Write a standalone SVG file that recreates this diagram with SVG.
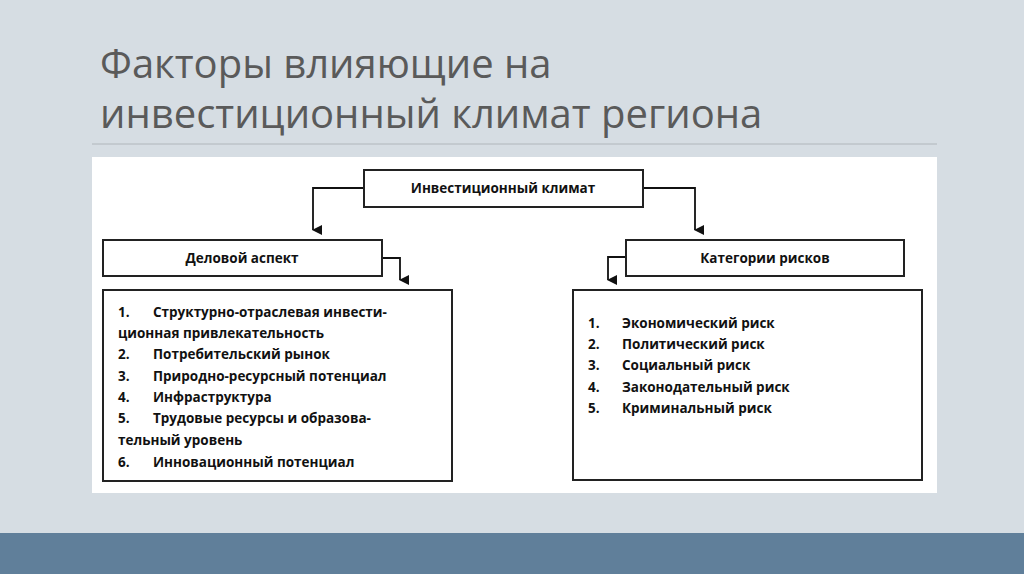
<svg xmlns="http://www.w3.org/2000/svg" width="1024" height="574" viewBox="0 0 1024 574">
<defs><marker id="ah" markerWidth="10" markerHeight="10" refX="5" refY="9" orient="auto" markerUnits="userSpaceOnUse"><path d="M0,0 L10,0 L5,10 z" transform="rotate(0)" fill="#111"/></marker></defs>
<style>
.b{fill:#fff;stroke:#222;stroke-width:2}
.t{font-family:"Open Sans","DejaVu Sans",sans-serif;font-weight:bold;font-size:13.5px;fill:#111}
.c{fill:none;stroke:#111;stroke-width:1.8}
</style>
<rect width="1024" height="574" fill="#d6dde3"/>
<rect y="533" width="1024" height="41" fill="#607f9a"/>
<text font-family="'Open Sans','Noto Sans',sans-serif" font-size="40" fill="#5a5a5a"><tspan x="100" y="78">Факторы влияющие на</tspan><tspan x="100" y="128">инвестиционный климат региона</tspan></text>
<line x1="92" y1="144" x2="937" y2="144" stroke="#b0b6bb" stroke-width="1"/>
<rect x="92" y="157" width="845" height="336" fill="#fff"/>
<g id="connectors">
<path class="c" d="M364,188 H313 V230" marker-end="url(#ah)"/>
<path class="c" d="M643,188 H695 V230" marker-end="url(#ah)"/>
<path class="c" d="M382,258 H400 V280" marker-end="url(#ah)"/>
<path class="c" d="M626,257 H608 V280" marker-end="url(#ah)"/>
</g>
<g id="root"><rect class="b" x="364" y="170" width="279" height="37"/><text class="t" x="503" y="193" text-anchor="middle">Инвестиционный климат</text></g>
<g id="business"><rect class="b" x="103" y="240" width="279" height="36"/><text class="t" x="242" y="263" text-anchor="middle">Деловой аспект</text></g>
<g id="risks"><rect class="b" x="626" y="240" width="278" height="36"/><text class="t" x="765" y="263" text-anchor="middle">Категории рисков</text></g>
<g id="business-list"><rect class="b" x="103" y="290" width="349" height="191"/>
<text class="t"><tspan x="118" y="317">1.</tspan><tspan x="153" y="317">Структурно-отраслевая инвести-</tspan><tspan x="118" y="338">ционная привлекательность</tspan><tspan x="118" y="359">2.</tspan><tspan x="153" y="359">Потребительский рынок</tspan><tspan x="118" y="381">3.</tspan><tspan x="153" y="381">Природно-ресурсный потенциал</tspan><tspan x="118" y="402">4.</tspan><tspan x="153" y="402">Инфраструктура</tspan><tspan x="118" y="423">5.</tspan><tspan x="153" y="423">Трудовые ресурсы и образова-</tspan><tspan x="118" y="445">тельный уровень</tspan><tspan x="118" y="467">6.</tspan><tspan x="153" y="467">Инновационный потенциал</tspan></text></g>
<g id="risk-list"><rect class="b" x="573" y="290" width="349" height="190"/>
<text class="t"><tspan x="588" y="328">1.</tspan><tspan x="622" y="328">Экономический риск</tspan><tspan x="588" y="349">2.</tspan><tspan x="622" y="349">Политический риск</tspan><tspan x="588" y="370">3.</tspan><tspan x="622" y="370">Социальный риск</tspan><tspan x="588" y="392">4.</tspan><tspan x="622" y="392">Законодательный риск</tspan><tspan x="588" y="413">5.</tspan><tspan x="622" y="413">Криминальный риск</tspan></text></g>
</svg>
